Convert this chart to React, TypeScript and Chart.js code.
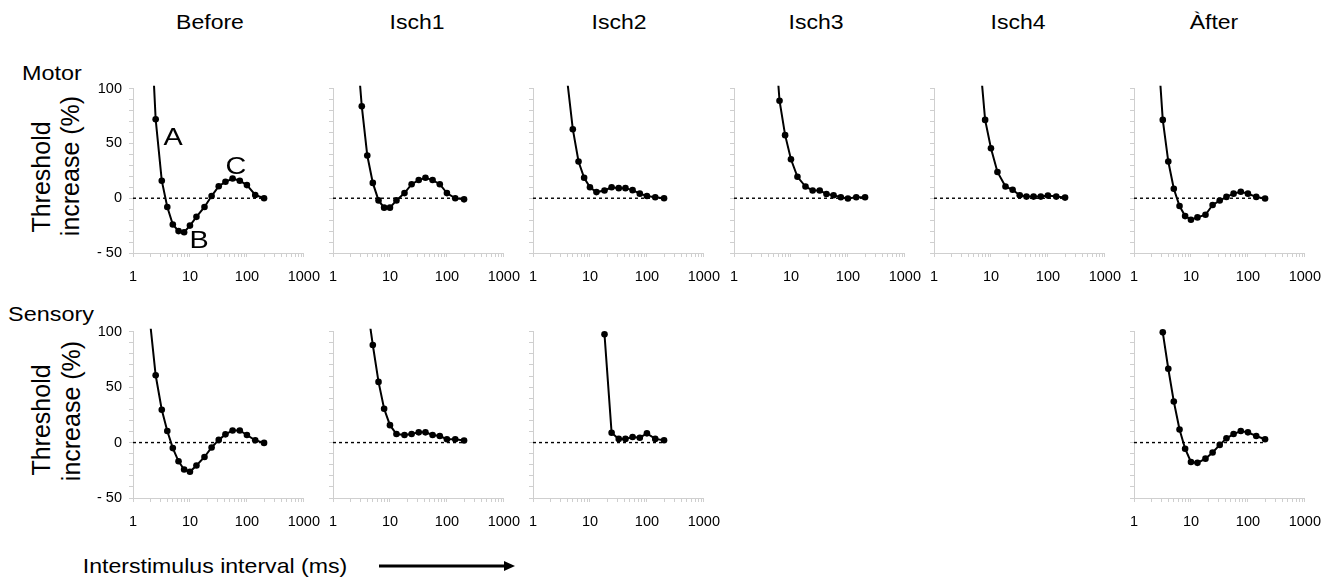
import React, { useEffect, useRef } from "react";
import { Chart, registerables } from "chart.js";

Chart.register(...registerables);

// ---------- data ----------
const ISI_MS = [2, 2.5, 3.2, 4, 5, 6.3, 7.9, 10, 13, 18, 24, 32, 42, 56, 75, 100, 140, 200];
const CONDITIONS = ["Before", "Isch1", "Isch2", "Isch3", "Isch4", "Àfter"];
const ROW_NAMES = ["Motor", "Sensory"];
const X_TICK_LABELS = [1, 10, 100, 1000];
const Y_TICK_LABELS = [-50, 0, 50, 100];
const ZERO_LINE_X = [1, 200];

const MOTOR_BEFORE = [175, 72, 16, -8, -24, -30, -31, -25, -17, -8, 2, 11, 15, 18, 16, 12, 3, 0];
const MOTOR_ISCH1 = [null, 153, 84, 39, 14, -2, -8.6, -8.6, -2, 4.7, 12.8, 16.6, 18.7, 16.6, 12.8, 4.7, 0, -1];
const MOTOR_ISCH2 = [null, null, null, 107, 63, 33.5, 18.7, 10, 5.6, 7.1, 10, 9.2, 9.2, 7.4, 4.2, 2, 0.9, 0];
const MOTOR_ISCH3 = [null, null, null, null, 160, 89, 57.6, 35.6, 19.6, 10.7, 7.1, 7.1, 3.9, 2.7, 0.9, -0.3, 0.9, 0.9];
const MOTOR_ISCH4 = [null, null, null, null, null, 130, 71.5, 45.7, 24, 10.7, 7.7, 2.7, 1.5, 1.5, 1.5, 2.4, 1.5, 0.6];
const MOTOR_AFTER = [null, 154, 71.5, 33.5, 8.6, -7.1, -16.3, -19.6, -17.5, -15.1, -6.2, -2.1, 1.2, 4.2, 5.9, 4.2, 1.2, -0.3];

const SENSORY_BEFORE = [108, 60.7, 29.6, 10.4, -5, -16.9, -24.3, -26.3, -20.7, -13, -4.4, 2.4, 7.4, 10.9, 10.9, 6.8, 2.1, -0.3];
const SENSORY_ISCH1 = [null, null, null, 123, 88, 54.7, 30.5, 15.7, 7.7, 6.8, 7.7, 9.2, 9.2, 6.8, 5.9, 3, 3, 1.8];
const SENSORY_ISCH2 = [null, null, null, null, null, null, null, null, null, 97.6, 8.9, 3.3, 3.3, 5, 4.4, 8.3, 3.3, 2.1];
const SENSORY_AFTER = [null, null, 99.4, 66.6, 37, 11.8, -5.6, -17.5, -18.3, -14.5, -8.9, -2.1, 3.8, 7.7, 10.4, 9.2, 5.9, 3];

const PANELS = [
  { row: 0, col: 0, values: MOTOR_BEFORE },
  { row: 0, col: 1, values: MOTOR_ISCH1 },
  { row: 0, col: 2, values: MOTOR_ISCH2 },
  { row: 0, col: 3, values: MOTOR_ISCH3 },
  { row: 0, col: 4, values: MOTOR_ISCH4 },
  { row: 0, col: 5, values: MOTOR_AFTER },
  { row: 1, col: 0, values: SENSORY_BEFORE },
  { row: 1, col: 1, values: SENSORY_ISCH1 },
  { row: 1, col: 2, values: SENSORY_ISCH2 },
  { row: 1, col: 5, values: SENSORY_AFTER },
];

// ---------- layout ----------
const COL_LEFT0 = 133;
const COL_STEP = 200.2;
const PLOT_W = 173;
const ROW_TOP = [85, 328];
const PLOT_H = [168, 170];
const PAD_L = 45;
const PAD_T = 12;
const PAD_R = 25;
const PAD_B = 35;
const AXIS_GREY = "#cfcfcf";
const TICK_FONT = { family: "'Liberation Sans', Arial, sans-serif", size: 14.5 };
const TEXT_FONT = "'Liberation Sans', Arial, Helvetica, sans-serif";

const LOG_MINOR_TICKS: number[] = [];
[1, 10, 100].forEach((d) => {
  for (let k = 1; k < 10; k++) LOG_MINOR_TICKS.push(d * k);
});
LOG_MINOR_TICKS.push(1000);

function Panel({ row, col, values }: { row: number; col: number; values: (number | null)[] }) {
  const ref = useRef<HTMLCanvasElement | null>(null);
  const w = PAD_L + PLOT_W + PAD_R;
  const h = PAD_T + PLOT_H[row] + PAD_B;
  useEffect(() => {
    if (!ref.current) return;
    const chart = new Chart(ref.current, {
      type: "line",
      data: {
        datasets: [
          {
            data: ISI_MS.map((x, i) => ({ x, y: values[i] })) as any,
            borderColor: "#000",
            backgroundColor: "#000",
            borderWidth: 2,
            pointRadius: 3.3,
            pointBorderWidth: 0,
            pointBackgroundColor: "#000",
            tension: 0,
            clip: { left: 8, top: 3, right: 8, bottom: 8 } as any,
          },
          {
            data: ZERO_LINE_X.map((x) => ({ x, y: 0 })),
            borderColor: "#000",
            borderWidth: 1.4,
            borderDash: [3, 3],
            pointRadius: 0,
          },
        ],
      },
      options: {
        responsive: false,
        animation: false,
        events: [],
        layout: { padding: { top: PAD_T, right: PAD_R, left: 0, bottom: 0 } },
        plugins: { legend: { display: false }, tooltip: { enabled: false } },
        scales: {
          x: {
            type: "logarithmic",
            min: 1,
            max: 1000,
            afterBuildTicks: (s: any) => {
              s.ticks = LOG_MINOR_TICKS.map((v) => ({ value: v }));
            },
            afterFit: (s: any) => {
              s.height = PAD_B;
            },
            grid: { drawOnChartArea: false, drawTicks: true, tickLength: 4, color: AXIS_GREY },
            border: { display: true, color: AXIS_GREY, width: 1 },
            ticks: {
              autoSkip: false,
              maxRotation: 0,
              minRotation: 0,
              padding: 11,
              color: "#000",
              font: TICK_FONT,
              callback: (v: any) => (X_TICK_LABELS.includes(Number(v)) ? String(v) : ""),
            },
          },
          y: {
            min: -50,
            max: 100,
            afterFit: (s: any) => {
              s.width = PAD_L;
            },
            grid: { drawOnChartArea: false, drawTicks: true, tickLength: 4, color: AXIS_GREY },
            border: { display: true, color: AXIS_GREY, width: 1 },
            ticks: {
              stepSize: 10,
              autoSkip: false,
              padding: 7,
              color: "#000",
              font: TICK_FONT,
              callback: (v: any) =>
                col === 0 && Y_TICK_LABELS.includes(Number(v)) ? String(v).replace("-", "- ") : "",
            },
          },
        },
      },
    } as any);
    return () => chart.destroy();
  }, []);
  const left = COL_LEFT0 + COL_STEP * col - PAD_L;
  const top = ROW_TOP[row] - PAD_T;
  return (
    <canvas
      ref={ref}
      width={w}
      height={h}
      style={{ position: "absolute", left, top, width: w, height: h }}
    />
  );
}

function Txt({
  x,
  y,
  size,
  sx = 1,
  rot = 0,
  children,
}: {
  x: number;
  y: number;
  size: number;
  sx?: number;
  rot?: number;
  children: React.ReactNode;
}) {
  return (
    <div
      style={{
        position: "absolute",
        left: x,
        top: y,
        transform: `translate(-50%, -50%) rotate(${rot}deg) scaleX(${sx})`,
        fontFamily: TEXT_FONT,
        fontSize: size,
        lineHeight: 1,
        whiteSpace: "nowrap",
        color: "#000",
      }}
    >
      {children}
    </div>
  );
}

const TITLE_X = [210, 417, 619, 816, 1018, 1214];

export default function App() {
  return (
    <div
      style={{
        position: "fixed",
        left: 0,
        top: 0,
        width: 1337,
        height: 580,
        background: "#fff",
        overflow: "hidden",
      }}
    >
      {CONDITIONS.map((c, i) => (
        <Txt key={c} x={TITLE_X[i]} y={22} size={20} sx={1.15}>
          {c}
        </Txt>
      ))}
      <Txt x={52} y={73} size={20} sx={1.17}>
        {ROW_NAMES[0]}
      </Txt>
      <Txt x={51} y={314} size={20} sx={1.17}>
        {ROW_NAMES[1]}
      </Txt>

      <Txt x={41} y={177} size={25} rot={-90}>
        Threshold
      </Txt>
      <Txt x={70} y={166} size={25} rot={-90}>
        increase (%)
      </Txt>
      <Txt x={41} y={420} size={25} rot={-90}>
        Threshold
      </Txt>
      <Txt x={71} y={411} size={25} rot={-90}>
        increase (%)
      </Txt>

      {PANELS.map((p) => (
        <Panel key={`${p.row}-${p.col}`} row={p.row} col={p.col} values={p.values} />
      ))}

      <Txt x={173} y={137} size={24} sx={1.2}>
        A
      </Txt>
      <Txt x={199} y={240} size={24} sx={1.2}>
        B
      </Txt>
      <Txt x={236} y={166} size={24} sx={1.2}>
        C
      </Txt>

      <Txt x={215} y={565} size={21} sx={1.1}>
        Interstimulus interval (ms)
      </Txt>
      <svg
        width={160}
        height={20}
        style={{ position: "absolute", left: 370, top: 556 }}
      >
        <line x1={9} y1={10} x2={138} y2={10} stroke="#000" strokeWidth={3} />
        <polygon points="134,5 145,10 134,15" fill="#000" />
      </svg>
    </div>
  );
}
